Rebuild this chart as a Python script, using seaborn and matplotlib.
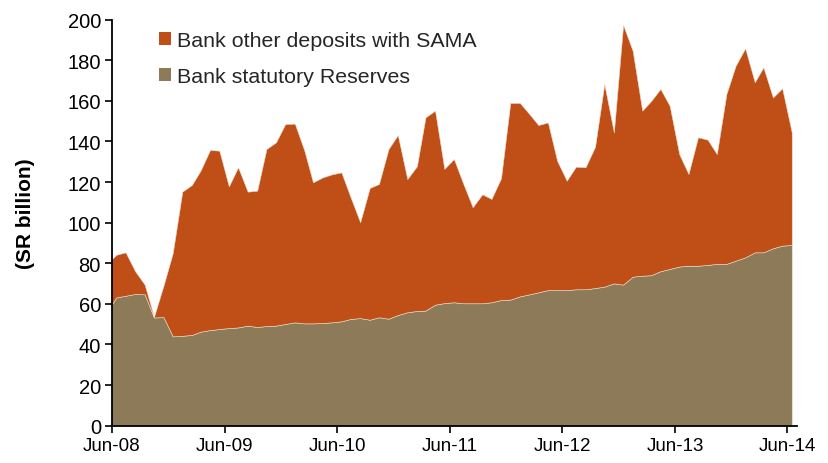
import matplotlib
matplotlib.use("Agg")
import matplotlib.pyplot as plt
import matplotlib.dates as mdates
from matplotlib.patches import Patch
import numpy as np
import pandas as pd
import seaborn as sns

# Monthly observations, May-08 to Jun-14 (SR billion)
months = pd.date_range("2008-05-01", "2014-06-01", freq="MS")

statutory_reserves = [
    56.0,
    63.2, 64.0, 64.9, 64.7, 53.3, 53.5, 44.0, 44.3, 44.7, 46.3, 47.1, 47.6,
    48.1, 48.4, 49.3, 48.6, 49.1, 49.3, 50.1, 50.9, 50.4, 50.4, 50.6, 50.9,
    51.4, 52.6, 53.0, 52.2, 53.4, 52.7, 54.5, 55.9, 56.5, 56.7, 59.6, 60.4,
    60.8, 60.3, 60.3, 60.3, 60.8, 61.9, 62.1, 63.7, 64.7, 65.7, 66.8, 66.8,
    66.8, 67.2, 67.2, 67.8, 68.5, 70.1, 69.5, 73.4, 73.9, 74.1, 76.1, 77.2,
    78.4, 78.8, 78.8, 79.2, 79.7, 79.7, 81.3, 82.9, 85.4, 85.4, 87.4, 88.7,
    89.0,
]

other_deposits = [
    23.5,
    21.0, 21.4, 11.2, 4.8, 0.3, 15.5, 41.0, 71.0, 73.9, 79.3, 88.7, 87.9,
    69.8, 78.9, 66.0, 67.2, 87.2, 90.3, 98.5, 97.9, 85.1, 69.5, 71.7, 72.9,
    73.4, 59.9, 47.2, 64.9, 65.7, 83.6, 88.7, 65.6, 71.3, 95.2, 95.6, 66.1,
    70.6, 59.1, 47.3, 53.7, 50.9, 60.0, 96.9, 95.3, 88.8, 82.4, 82.6, 63.7,
    53.9, 60.4, 60.1, 69.6, 99.8, 74.4, 127.9, 111.3, 81.3, 85.7, 89.8, 80.4,
    55.4, 45.2, 63.3, 61.7, 54.1, 83.7, 96.0, 103.0, 83.8, 91.1, 74.3, 77.5,
    55.5,
]

series_labels = ["Bank other deposits with SAMA", "Bank statutory Reserves"]
y_label = "(SR billion)"

orange = "#C04F17"
brown = "#8D7A58"

sns.set_theme(style="ticks")
plt.rcParams["font.family"] = ["Liberation Sans", "DejaVu Sans"]

fig = plt.figure(figsize=(8.29, 4.64), dpi=100)
ax = fig.add_axes([0.1351, 0.0804, 0.961 - 0.1351, 0.9554 - 0.0804])

# values are mid-month readings
dates = months + pd.Timedelta(days=14)
ax.stackplot(dates, statutory_reserves, other_deposits,
             colors=[brown, orange], edgecolor="#eadccb", linewidth=0.4)

ax.set_xlim(pd.Timestamp("2008-06-01"), pd.Timestamp("2014-07-01"))
ax.set_ylim(0, 200)
ax.set_yticks(np.arange(0, 201, 20))
ax.xaxis.set_major_locator(mdates.MonthLocator(bymonth=6, bymonthday=1))
ax.xaxis.set_major_formatter(mdates.DateFormatter("%b-%y"))

for side in ["top", "right"]:
    ax.spines[side].set_visible(False)
for side in ["left", "bottom"]:
    ax.spines[side].set_color("black")
    ax.spines[side].set_linewidth(1.3)
ax.tick_params(axis="both", direction="out", length=5, width=1.2,
               color="black", labelcolor="black", pad=3)
ax.tick_params(axis="y", labelsize=14.5)
ax.tick_params(axis="x", labelsize=13.5)

ax.set_ylabel(y_label, fontsize=15, fontweight="bold", color="black")
ax.yaxis.set_label_coords(-0.112, 0.525)

handles = [Patch(facecolor=orange, edgecolor="none"),
           Patch(facecolor=brown, edgecolor="none")]
ax.legend(handles, series_labels, loc="upper left",
          bbox_to_anchor=(0.068, 0.971), frameon=False, fontsize=15.4,
          handlelength=0.56, handleheight=0.56, handletextpad=0.3,
          labelspacing=0.76, borderpad=0, borderaxespad=0)

fig.savefig("out.png", dpi=100)
